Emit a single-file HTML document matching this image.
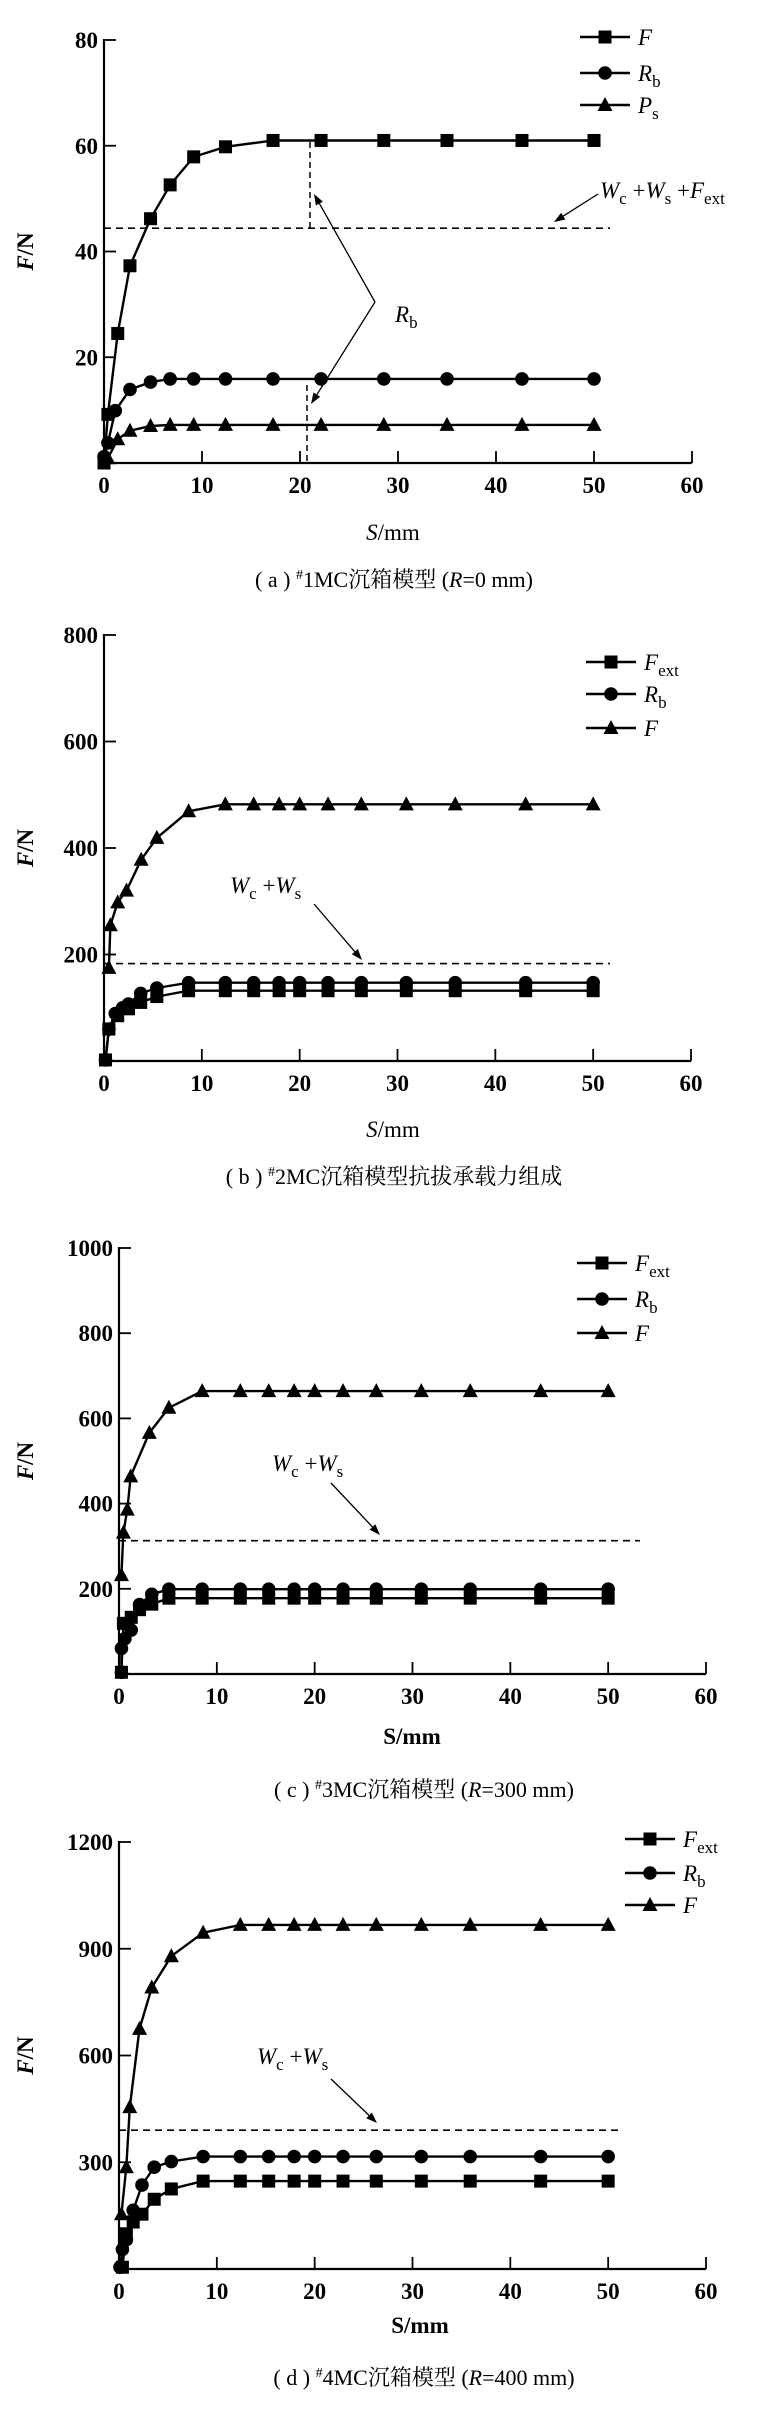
<!DOCTYPE html>
<html><head><meta charset="utf-8"><style>
html,body{margin:0;padding:0;background:#fff;}
svg{display:block;font-family:"Liberation Serif","Noto Serif CJK SC",serif;}
</style></head><body>
<svg id="s" width="764" height="2409" xmlns="http://www.w3.org/2000/svg"></svg>
<script>
var s=document.getElementById('s'),out='';
function add(h){out+=h;}
function mk(type,x,y){
 if(type=='sq')return '<rect x="'+(x-6.5)+'" y="'+(y-6.5)+'" width="13" height="13" fill="#000"/>';
 if(type=='ci')return '<circle cx="'+x+'" cy="'+y+'" r="6.8" fill="#000"/>';
 return '<polygon points="'+x+','+(y-8)+' '+(x-7.5)+','+(y+6)+' '+(x+7.5)+','+(y+6)+'" fill="#000"/>';
}
function panel(P){
 var X=function(m){return P.x0+(P.x60-P.x0)*m/60;};
 var Y=function(v){return P.y0-(P.y0-P.yt)*v/P.ymax;};
 add('<line x1="'+P.x0+'" y1="'+(P.yt-1)+'" x2="'+P.x0+'" y2="'+(P.y0+1)+'" stroke="#000" stroke-width="2.2"/>');
 add('<line x1="'+P.x0+'" y1="'+P.y0+'" x2="'+P.x60+'" y2="'+P.y0+'" stroke="#000" stroke-width="2.2"/>');
 for(var i=0;i<=6;i++){var x=X(i*10);
  if(i>0)add('<line x1="'+x+'" y1="'+P.y0+'" x2="'+x+'" y2="'+(P.y0-12)+'" stroke="#000" stroke-width="1.8"/>');
  add('<text x="'+x+'" y="'+(P.y0+30)+'" font-size="23" font-weight="bold" text-anchor="middle">'+(i*10)+'</text>');}
 for(var v=P.ystep;v<=P.ymax;v+=P.ystep){var y=Y(v);
  add('<line x1="'+P.x0+'" y1="'+y+'" x2="'+(P.x0+12)+'" y2="'+y+'" stroke="#000" stroke-width="1.8"/>');
  add('<text x="'+(P.x0-6)+'" y="'+(y+8)+'" font-size="23" font-weight="bold" text-anchor="end">'+v+'</text>');}
 var yc=(P.y0+P.yt)/2;
 add('<text transform="translate(33,'+yc+') rotate(-90)" font-size="23" font-weight="bold" text-anchor="middle"><tspan font-style="italic">F</tspan>/N</text>');
 add(P.xlab);
 add(P.cap);
 add('<line x1="'+P.x0+'" y1="'+Y(P.dash)+'" x2="'+P.dx2+'" y2="'+Y(P.dash)+'" stroke="#000" stroke-width="1.6" stroke-dasharray="7,5"/>');
 P.series.forEach(function(se){
  var pts=se.d.map(function(p){return X(p[0]).toFixed(1)+','+Y(p[1]).toFixed(1);}).join(' ');
  add('<polyline points="'+pts+'" fill="none" stroke="#000" stroke-width="2.4"/>');
  se.d.forEach(function(p){add(mk(se.m,X(p[0]),Y(p[1])));});
 });
 P.leg.forEach(function(l,i){var y=P.ly[i];
  add('<line x1="'+P.lx+'" y1="'+y+'" x2="'+(P.lx+50)+'" y2="'+y+'" stroke="#000" stroke-width="2.4"/>');
  add(mk(l[0],P.lx+25,y));
  add('<text x="'+(P.lx+58)+'" y="'+(y+8)+'" font-size="23">'+l[1]+'</text>');
 });
 if(P.extra)add(P.extra);
}
var tail=[12.4,15.3,17.9,20,22.9,26.3,30.9,35.9,43.1,50];
function flat(arr,v){return arr.concat(tail.map(function(x){return [x,v];}));}
var FF='<tspan font-style="italic">F</tspan>';
var Fext='<tspan font-style="italic">F</tspan><tspan font-size="17" dy="6">ext</tspan>';
var Rb='<tspan font-style="italic">R</tspan><tspan font-size="17" dy="6">b</tspan>';
var Ps='<tspan font-style="italic">P</tspan><tspan font-size="17" dy="6">s</tspan>';
function arrow(x1,y1,x2,y2){var a=Math.atan2(y2-y1,x2-x1),L=11,w=4;
 var bx=x2-L*Math.cos(a),by=y2-L*Math.sin(a);
 return '<line x1="'+x1+'" y1="'+y1+'" x2="'+bx+'" y2="'+by+'" stroke="#000" stroke-width="1.3"/><polygon points="'+x2+','+y2+' '+(bx+w*Math.sin(a))+','+(by-w*Math.cos(a))+' '+(bx-w*Math.sin(a))+','+(by+w*Math.cos(a))+'" fill="#000"/>';}
var WcWs='<tspan font-style="italic">W</tspan><tspan font-size="17" dy="6">c</tspan><tspan dy="-6"> +</tspan><tspan font-style="italic">W</tspan><tspan font-size="17" dy="6">s</tspan>';
var ta=[[17.25,61],[22.15,61],[28.55,61],[35,61],[42.65,61],[50,61]];
panel({x0:104,x60:692,y0:463,yt:40,ymax:80,ystep:20,dash:44.4,dx2:610,
 xlab:'<text x="393" y="540" font-size="23" text-anchor="middle"><tspan font-style="italic">S</tspan>/mm</text>',
 cap:'<text x="394" y="587" font-size="22" text-anchor="middle">( a ) <tspan font-size="14" dy="-8">#</tspan><tspan dy="8">1MC沉箱模型 (</tspan><tspan font-style="italic">R</tspan>=0 mm)</text>',
 series:[
  {m:'sq',d:[[0,0],[0.4,9.2],[1.4,24.5],[2.65,37.3],[4.75,46.2],[6.75,52.6],[9.15,57.9],[12.4,59.8]].concat(ta)},
  {m:'ci',d:[[0,1.2],[0.4,3.8],[1.15,9.9],[2.65,13.9],[4.75,15.3],[6.75,15.9],[9.15,15.9],[12.4,15.9],[17.25,15.9],[22.15,15.9],[28.55,15.9],[35,15.9],[42.65,15.9],[50,15.9]]},
  {m:'tr',d:[[0.4,0.9],[1.4,4.5],[2.65,6.1],[4.75,7],[6.75,7.2],[9.15,7.2],[12.4,7.2],[17.25,7.2],[22.15,7.2],[28.55,7.2],[35,7.2],[42.65,7.2],[50,7.2]]}],
 leg:[['sq',FF],['ci',Rb],['tr',Ps]],ly:[37,73,105],lx:580,
 extra:'<line x1="310" y1="142" x2="310" y2="230" stroke="#000" stroke-width="1.5" stroke-dasharray="6,4"/><line x1="307" y1="385" x2="307" y2="465" stroke="#000" stroke-width="1.5" stroke-dasharray="6,4"/>'+
  '<text x="600" y="198" font-size="23"><tspan font-style="italic">W</tspan><tspan font-size="17" dy="6">c</tspan><tspan dy="-6"> +</tspan><tspan font-style="italic">W</tspan><tspan font-size="17" dy="6">s</tspan><tspan dy="-6"> +</tspan><tspan font-style="italic">F</tspan><tspan font-size="17" dy="6">ext</tspan></text>'+
  arrow(598,194,554,222)+arrow(375,302,314,194)+arrow(375,302,311,404)+
  '<text x="395" y="322" font-size="23">'+Rb+'</text>'
});
panel({x0:104,x60:691,y0:1061,yt:635,ymax:800,ystep:200,dash:183,dx2:610,
 xlab:'<text x="393" y="1137" font-size="23" text-anchor="middle"><tspan font-style="italic">S</tspan>/mm</text>',
 cap:'<text x="394" y="1184" font-size="22" text-anchor="middle">( b ) <tspan font-size="14" dy="-8">#</tspan><tspan dy="8">2MC沉箱模型抗拔承载力组成</tspan></text>',
 series:[
  {m:'sq',d:flat([[0.15,2],[0.5,60],[1.4,85],[2.5,98],[3.75,110],[5.4,121],[8.65,132]],132)},
  {m:'ci',d:flat([[0.15,2],[0.5,60],[1.15,89],[1.9,100],[2.5,107],[3.75,127],[5.4,137],[8.65,147]],147)},
  {m:'tr',d:flat([[0.5,175],[0.65,255],[1.4,298],[2.3,320],[3.8,378],[5.4,419],[8.65,469]],482)}],
 leg:[['sq',Fext],['ci',Rb],['tr',FF]],ly:[662,694,728],lx:586,
 extra:'<text x="230" y="893" font-size="23">'+WcWs+'</text>'+arrow(314,904,362,960)
});
panel({x0:119,x60:706,y0:1674,yt:1248,ymax:1000,ystep:200,dash:313,dx2:640,
 xlab:'<text x="412" y="1744" font-size="23" font-weight="bold" text-anchor="middle">S/mm</text>',
 cap:'<text x="424" y="1797" font-size="22" text-anchor="middle">( c ) <tspan font-size="14" dy="-8">#</tspan><tspan dy="8">3MC沉箱模型 (</tspan><tspan font-style="italic">R</tspan>=300 mm)</text>',
 series:[
  {m:'sq',d:flat([[0.25,4],[0.45,119],[1.25,133],[2.1,151],[3.35,164],[5.1,178],[8.5,178]],178)},
  {m:'ci',d:flat([[0.25,4],[0.25,60],[0.6,83],[1.25,103],[2.1,163],[3.35,187],[5.1,199],[8.5,199]],199)},
  {m:'tr',d:flat([[0.25,232],[0.45,332],[0.85,386],[1.2,464],[3.1,566],[5.1,625],[8.5,664]],664)}],
 leg:[['sq',Fext],['ci',Rb],['tr',FF]],ly:[1263,1299,1333],lx:577,
 extra:'<text x="272" y="1471" font-size="23">'+WcWs+'</text>'+arrow(331,1483,380,1535)
});
panel({x0:119,x60:706,y0:2269,yt:1842,ymax:1200,ystep:300,dash:390,dx2:622,
 xlab:'<text x="420" y="2333" font-size="23" font-weight="bold" text-anchor="middle">S/mm</text>',
 cap:'<text x="424" y="2385" font-size="22" text-anchor="middle">( d ) <tspan font-size="14" dy="-8">#</tspan><tspan dy="8">4MC沉箱模型 (</tspan><tspan font-style="italic">R</tspan>=400 mm)</text>',
 series:[
  {m:'sq',d:flat([[0.35,5],[0.75,99],[1.45,132],[2.35,154],[3.6,196],[5.35,225],[8.6,247]],247)},
  {m:'ci',d:flat([[0.1,5],[0.35,55],[0.75,82],[1.45,165],[2.35,236],[3.6,286],[5.35,302],[8.6,316]],316)},
  {m:'tr',d:flat([[0.25,154],[0.75,286],[1.1,455],[2.1,675],[3.35,791],[5.35,879],[8.6,945]],967)}],
 leg:[['sq',Fext],['ci',Rb],['tr',FF]],ly:[1839,1873,1905],lx:625,
 extra:'<text x="257" y="2064" font-size="23">'+WcWs+'</text>'+arrow(331,2079,377,2123)
});
s.innerHTML=out;
</script>
</body></html>
